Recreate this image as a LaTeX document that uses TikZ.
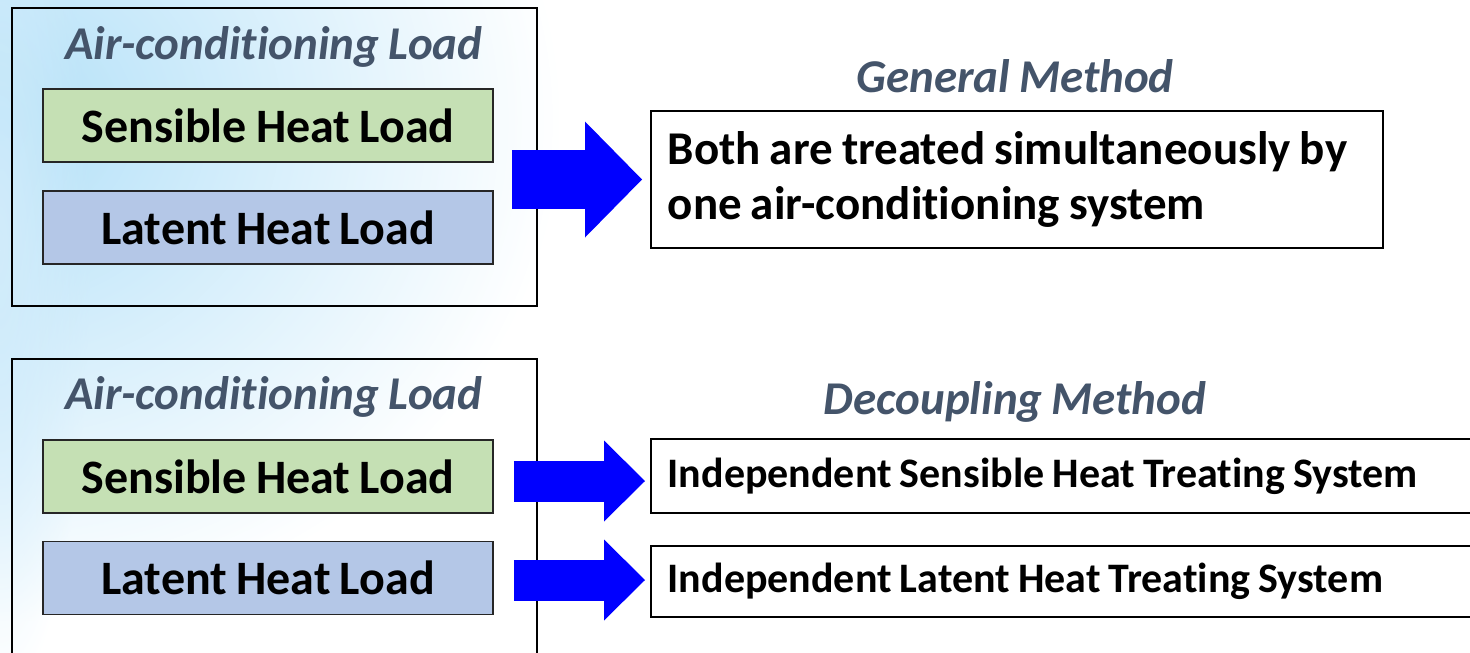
\documentclass[tikz,border=0pt]{standalone}
\usepackage{fontspec}
\setmainfont[Ligatures=NoCommon, WordSpace=0.85]{Carlito}
\usepackage{xcolor}
\usepackage{tikz}
\usetikzlibrary{calc, positioning, arrows.meta, fadings}
\definecolor{haze}{RGB}{178,224,248}
\definecolor{slate}{RGB}{68,84,106}
\definecolor{sensgreen}{RGB}{197,224,180}
\definecolor{latblue}{RGB}{180,199,231}
\tikzfading[name=glow, inner color=transparent!0, outer color=transparent!100]

\begin{document}
\begin{tikzpicture}[x=1pt, y=-1pt]
		\tikzstyle{frame}=[draw, line width=1.5pt, minimum width=525pt, minimum height=298pt]
		\tikzstyle{load}=[draw=black!85, line width=1.5pt, minimum width=450pt, minimum height=73pt, font=\fontsize{48}{56}\selectfont\bfseries]
		\tikzstyle{heading}=[text=slate, font=\fontsize{47}{56}\selectfont\bfseries\itshape]
		\tikzstyle{result}=[draw, fill=white, line width=1.5pt, anchor=west, inner xsep=17pt, align=flush left]
		\tikzstyle{push}=[blue, line width=59pt, -{Triangle[length=57pt, width=116pt, line width=0pt]}]
		\tikzstyle{nudge}=[blue, line width=41pt, -{Triangle[length=41pt, width=81pt, line width=0pt]}]
		\useasboundingbox (0,0) rectangle (1470,653);
		\clip (0,0) rectangle (1470,653);
		\fill[haze, path fading=glow] (-560,-380) rectangle (560,620);
		\fill[haze!60, path fading=glow] (-90,-200) rectangle (90,700);

		\node[frame] (top) at (274.5,157) {};
		\node[heading] (ac1) at (274,47) {Air-conditioning Load};
		\node[load, fill=sensgreen] (sens1) at (268,125.5) {Sensible Heat Load};
		\node[load, fill=latblue] (lat1) at (268,227.5) {Latent Heat Load};
		\node[heading] (gen) at (1015,76) {General Method};
		\node[result, minimum width=732pt, minimum height=137pt, text width=698pt, font=\fontsize{47}{55}\selectfont\bfseries] (both) at (650,179.5) {Both are treated simultaneously by\\one air-conditioning system};
		\draw[push] ($(sens1.east |- both.west)+(18,0)$) -- ($(both.west)+(-8,0)$);

		\node[frame] (bot) at (274.5,508) {};
		\node[heading] (ac2) at (274,397) {Air-conditioning Load};
		\node[load, fill=sensgreen] (sens2) at (268,476.5) {Sensible Heat Load};
		\node[load, fill=latblue] (lat2) at (268,578) {Latent Heat Load};
		\node[heading] (dec) at (1015,402) {Decoupling Method};
		\node[result, minimum width=830pt, minimum height=74pt, text width=796pt, font=\fontsize{42}{48}\selectfont\bfseries] (isens) at (650,476) {Independent Sensible Heat Treating System};
		\node[result, minimum width=830pt, minimum height=71pt, text width=796pt, font=\fontsize{42}{48}\selectfont\bfseries] (ilat) at (650,581.5) {Independent Latent Heat Treating System};
		\draw[nudge] ($(sens2.east |- isens.west)+(20,5)$) -- ($(isens.west)+(-5,5)$);
		\draw[nudge] ($(lat2.east |- ilat.west)+(20,-1.5)$) -- ($(ilat.west)+(-5,-1.5)$);
	\end{tikzpicture}
\end{document}
